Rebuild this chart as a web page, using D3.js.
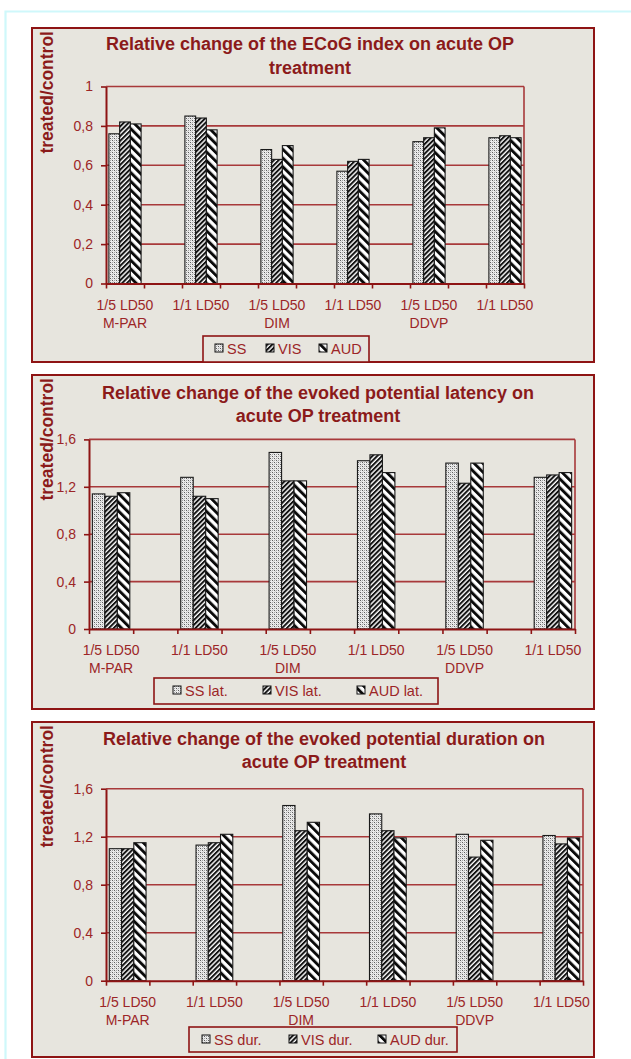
<!DOCTYPE html>
<html>
<head>
<meta charset="utf-8">
<script src="https://cdn.jsdelivr.net/npm/d3@7"></script>
<style>
  html, body { margin: 0; padding: 0; background: #ffffff; }
  svg { display: block; }
  text { font-family: "Liberation Sans", Arial, sans-serif; }
</style>
</head>
<body>
<script>
// ---- data -------------------------------------------------------------
const doses = ["1/5 LD50", "1/1 LD50", "1/5 LD50", "1/1 LD50", "1/5 LD50", "1/1 LD50"];
const compounds = ["M-PAR", "", "DIM", "", "DDVP", ""];

const ecogSeries = ["SS", "VIS", "AUD"];
const ecogSS  = [0.76, 0.85, 0.68, 0.57, 0.72, 0.74];
const ecogVIS = [0.82, 0.84, 0.63, 0.62, 0.74, 0.75];
const ecogAUD = [0.81, 0.78, 0.70, 0.63, 0.79, 0.74];
const ecogTicks = [0, 0.2, 0.4, 0.6, 0.8, 1];

const latSeries = ["SS lat.", "VIS lat.", "AUD lat."];
const latSS  = [1.14, 1.28, 1.49, 1.42, 1.40, 1.28];
const latVIS = [1.12, 1.12, 1.25, 1.47, 1.23, 1.30];
const latAUD = [1.15, 1.10, 1.25, 1.32, 1.40, 1.32];
const latTicks = [0, 0.4, 0.8, 1.2, 1.6];

const durSeries = ["SS dur.", "VIS dur.", "AUD dur."];
const durSS  = [1.10, 1.13, 1.46, 1.39, 1.22, 1.21];
const durVIS = [1.10, 1.15, 1.25, 1.25, 1.03, 1.14];
const durAUD = [1.15, 1.22, 1.32, 1.19, 1.17, 1.19];
const durTicks = [0, 0.4, 0.8, 1.2, 1.6];

// ---- styling ----------------------------------------------------------
const BG = "#e7e5de";
const FRAME = "#8e1414";
const GRID = "#a8393a";
const TITLE = "#8b1a1a";
const TICKTXT = "#9c2527";
const FONT = "'Liberation Sans', Arial, sans-serif";

const svg = d3.select("body").append("svg")
  .attr("width", 631).attr("height", 1059);

// hatch fills for the three series
const defs = svg.append("defs");
{
  const p = defs.append("pattern").attr("id", "pat0")
    .attr("patternUnits", "userSpaceOnUse").attr("width", 4).attr("height", 4);
  p.append("rect").attr("width", 4).attr("height", 4).attr("fill", "#ececec");
  [[0,0,"#5e5e5e"],[2,2,"#5e5e5e"],[2,0,"#a4a4a4"],[0,2,"#a4a4a4"],[1,1,"#cfcfcf"],[3,3,"#cfcfcf"]].forEach(([x,y,c]) =>
    p.append("rect").attr("x", x).attr("y", y).attr("width", 1).attr("height", 1).attr("fill", c));
}
{
  const p = defs.append("pattern").attr("id", "pat1")
    .attr("patternUnits", "userSpaceOnUse").attr("width", 3.4).attr("height", 10)
    .attr("patternTransform", "rotate(45)");
  p.append("rect").attr("width", 3.4).attr("height", 10).attr("fill", "#ffffff");
  p.append("rect").attr("width", 2.0).attr("height", 10).attr("fill", "#111111");
}
{
  const p = defs.append("pattern").attr("id", "pat2")
    .attr("patternUnits", "userSpaceOnUse").attr("width", 6.2).attr("height", 10)
    .attr("patternTransform", "rotate(-45)");
  p.append("rect").attr("width", 6.2).attr("height", 10).attr("fill", "#ffffff");
  p.append("rect").attr("width", 2.9).attr("height", 10).attr("fill", "#0a0a0a");
}
const fills = ["url(#pat0)", "url(#pat1)", "url(#pat2)"];

// light cyan page frame
svg.append("path")
  .attr("d", "M5.5,1059 V11.5 H631")
  .attr("fill", "none").attr("stroke", "#cff8fb").attr("stroke-width", 2.2);

const panels = [
  {
    series: ecogSeries, values: [ecogSS, ecogVIS, ecogAUD], ticks: ecogTicks,
    box: {x: 32, y: 28, w: 562, h: 334},
    plot: {left: 106, right: 524, top: 86.5, bottom: 283.5},
    title: ["Relative change of the ECoG index on acute OP", "treatment"],
    titleX: 310, titleY: [50, 73.5], ylabTop: 31,
    labY: [310, 328],
    legend: {x: 203, y: 336, w: 166, h: 26, sw: [215, 266, 319], tx: [227, 278, 331], base: 354}
  },
  {
    series: latSeries, values: [latSS, latVIS, latAUD], ticks: latTicks,
    box: {x: 32, y: 375, w: 562, h: 334},
    plot: {left: 89, right: 575, top: 439.4, bottom: 629},
    title: ["Relative change of the evoked potential latency on", "acute OP treatment"],
    titleX: 318, titleY: [398.5, 422], ylabTop: 378,
    labY: [655, 673],
    legend: {x: 154, y: 678, w: 284, h: 26, sw: [173, 263, 357], tx: [185, 275, 369], base: 696}
  },
  {
    series: durSeries, values: [durSS, durVIS, durAUD], ticks: durTicks,
    box: {x: 32, y: 722, w: 562, h: 335},
    plot: {left: 106, right: 583, top: 788.7, bottom: 980.7},
    title: ["Relative change of the evoked potential duration on", "acute OP treatment"],
    titleX: 324, titleY: [745, 768], ylabTop: 725,
    labY: [1007, 1025],
    legend: {x: 189, y: 1027, w: 268, h: 25, sw: [202, 289, 378], tx: [214, 301, 390], base: 1045}
  }
];

// 11 category slots: one group of bars in every other slot
const nSlots = doses.length * 2 - 1;

panels.forEach(cfg => {
  const g = svg.append("g");
  const b = cfg.box, pl = cfg.plot;

  g.append("rect").attr("x", b.x).attr("y", b.y).attr("width", b.w).attr("height", b.h)
    .attr("fill", BG).attr("stroke", FRAME).attr("stroke-width", 2);

  const yMax = cfg.ticks[cfg.ticks.length - 1];
  const y = d3.scaleLinear().domain([0, yMax]).range([pl.bottom, pl.top]);
  const x = d3.scaleBand().domain(d3.range(nSlots)).range([pl.left, pl.right]).padding(0);
  const xb = d3.scaleLinear().domain([0, nSlots]).range([pl.left, pl.right]);
  const sub = d3.scaleBand().domain(d3.range(cfg.series.length))
    .range([0, x.bandwidth()]).paddingInner(0).paddingOuter(0.27);

  // gridlines and plot border
  g.append("g").selectAll("line").data(cfg.ticks.filter(t => t > 0)).join("line")
    .attr("x1", pl.left).attr("x2", pl.right)
    .attr("y1", d => y(d)).attr("y2", d => y(d))
    .attr("stroke", GRID).attr("stroke-width", 1.6);
  g.append("line").attr("x1", pl.right).attr("x2", pl.right)
    .attr("y1", pl.top).attr("y2", pl.bottom)
    .attr("stroke", GRID).attr("stroke-width", 1.6);

  // bars
  doses.forEach((d, i) => {
    cfg.values.forEach((vals, j) => {
      const v = vals[i];
      g.append("rect")
        .attr("x", x(2 * i) + sub(j)).attr("y", y(v))
        .attr("width", sub.bandwidth()).attr("height", y(0) - y(v))
        .attr("fill", fills[j]).attr("stroke", "#1a1a1a").attr("stroke-width", 1.1);
    });
  });

  // y axis
  const ya = g.append("g").attr("transform", `translate(${pl.left},0)`)
    .call(d3.axisLeft(y).tickValues(cfg.ticks).tickSizeInner(5).tickSizeOuter(0).tickPadding(8)
      .tickFormat(d => d3.format("")(+d.toFixed(1)).replace(".", ",")));
  ya.select(".domain").attr("stroke", FRAME).attr("stroke-width", 2);
  ya.selectAll(".tick line").attr("stroke", FRAME).attr("stroke-width", 1.6);
  ya.selectAll(".tick text").attr("fill", TICKTXT).attr("font-size", 14).attr("font-family", FONT);

  // x axis (ticks on slot boundaries)
  const xa = g.append("g").attr("transform", `translate(0,${pl.bottom})`)
    .call(d3.axisBottom(xb).tickValues(d3.range(nSlots + 1)).tickSizeInner(5).tickSizeOuter(0)
      .tickFormat(""));
  xa.select(".domain").attr("stroke", FRAME).attr("stroke-width", 2);
  xa.selectAll(".tick line").attr("stroke", FRAME).attr("stroke-width", 1.6);

  // category labels
  doses.forEach((d, i) => {
    const cx = x(2 * i) + x.bandwidth() / 2;
    g.append("text").attr("x", cx).attr("y", cfg.labY[0]).attr("text-anchor", "middle")
      .attr("font-size", 14).attr("fill", TICKTXT).text(d);
    if (compounds[i]) {
      g.append("text").attr("x", cx).attr("y", cfg.labY[1]).attr("text-anchor", "middle")
        .attr("font-size", 14).attr("fill", TICKTXT).text(compounds[i]);
    }
  });

  // title
  cfg.title.forEach((t, k) => {
    g.append("text").attr("x", cfg.titleX).attr("y", cfg.titleY[k]).attr("text-anchor", "middle")
      .attr("font-size", 18).attr("font-weight", "bold").attr("fill", TITLE).text(t);
  });

  // y axis title
  g.append("text")
    .attr("transform", `translate(47,${cfg.ylabTop}) rotate(-90)`)
    .attr("text-anchor", "end").attr("dominant-baseline", "central")
    .attr("font-size", 17.5).attr("font-weight", "bold").attr("fill", TITLE)
    .text("treated/control");

  // legend
  const L = cfg.legend;
  const lg = g.append("g");
  lg.append("rect").attr("x", L.x).attr("y", L.y).attr("width", L.w).attr("height", L.h)
    .attr("fill", BG).attr("stroke", FRAME).attr("stroke-width", 1.6);
  cfg.series.forEach((s, j) => {
    lg.append("rect").attr("x", L.sw[j]).attr("y", L.base - 10).attr("width", 8).attr("height", 8)
      .attr("fill", fills[j]).attr("stroke", "#111").attr("stroke-width", 1);
    lg.append("text").attr("x", L.tx[j]).attr("y", L.base).attr("font-size", 14.5)
      .attr("fill", TICKTXT).text(s);
  });
});
</script>
</body>
</html>
